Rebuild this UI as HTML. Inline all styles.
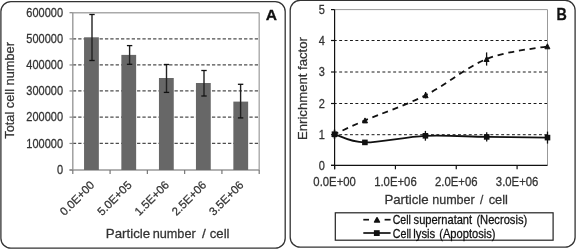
<!DOCTYPE html>
<html><head><meta charset="utf-8"><style>
html,body{margin:0;padding:0;background:#fff;width:576px;height:249px;overflow:hidden}
svg{display:block;will-change:transform}
text{font-family:"Liberation Sans", sans-serif;stroke-width:0.25px}
</style></head><body>
<svg width="576" height="249" viewBox="0 0 576 249">
<rect x="0.9" y="1.6" width="284.3" height="246.6" rx="10" ry="10" fill="none" stroke="#333" stroke-width="1.3"/>
<line x1="72.05" y1="38.90" x2="259.2" y2="38.90" stroke="#4d4d4d" stroke-width="1.2" stroke-dasharray="3.3,2.05" stroke-dashoffset="-0.8"/>
<line x1="72.05" y1="64.95" x2="259.2" y2="64.95" stroke="#4d4d4d" stroke-width="1.2" stroke-dasharray="3.3,2.05" stroke-dashoffset="-0.8"/>
<line x1="72.05" y1="90.95" x2="259.2" y2="90.95" stroke="#4d4d4d" stroke-width="1.2" stroke-dasharray="3.3,2.05" stroke-dashoffset="-0.8"/>
<line x1="72.05" y1="117.15" x2="259.2" y2="117.15" stroke="#4d4d4d" stroke-width="1.2" stroke-dasharray="3.3,2.05" stroke-dashoffset="-0.8"/>
<line x1="72.05" y1="143.45" x2="259.2" y2="143.45" stroke="#4d4d4d" stroke-width="1.2" stroke-dasharray="3.3,2.05" stroke-dashoffset="-0.8"/>
<line x1="72.8" y1="12.7" x2="259.2" y2="12.7" stroke="#aaa" stroke-width="1.4"/>
<line x1="259.2" y1="12.7" x2="259.2" y2="170.0" stroke="#aaa" stroke-width="1.4"/>
<line x1="72.8" y1="12.7" x2="72.8" y2="170.0" stroke="#999" stroke-width="1.4"/>
<line x1="69.5" y1="170.0" x2="259.2" y2="170.0" stroke="#999" stroke-width="1.4"/>
<line x1="69.5" y1="12.70" x2="72.8" y2="12.70" stroke="#888" stroke-width="1.2"/>
<line x1="69.5" y1="38.90" x2="72.8" y2="38.90" stroke="#888" stroke-width="1.2"/>
<line x1="69.5" y1="64.95" x2="72.8" y2="64.95" stroke="#888" stroke-width="1.2"/>
<line x1="69.5" y1="90.95" x2="72.8" y2="90.95" stroke="#888" stroke-width="1.2"/>
<line x1="69.5" y1="117.15" x2="72.8" y2="117.15" stroke="#888" stroke-width="1.2"/>
<line x1="69.5" y1="143.45" x2="72.8" y2="143.45" stroke="#888" stroke-width="1.2"/>
<line x1="69.5" y1="170.00" x2="72.8" y2="170.00" stroke="#888" stroke-width="1.2"/>
<line x1="72.80" y1="170.0" x2="72.80" y2="173.9" stroke="#777" stroke-width="1.2"/>
<line x1="110.08" y1="170.0" x2="110.08" y2="173.9" stroke="#777" stroke-width="1.2"/>
<line x1="147.36" y1="170.0" x2="147.36" y2="173.9" stroke="#777" stroke-width="1.2"/>
<line x1="184.64" y1="170.0" x2="184.64" y2="173.9" stroke="#777" stroke-width="1.2"/>
<line x1="221.92" y1="170.0" x2="221.92" y2="173.9" stroke="#777" stroke-width="1.2"/>
<line x1="259.20" y1="170.0" x2="259.20" y2="173.9" stroke="#777" stroke-width="1.2"/>
<rect x="84.05" y="37.3" width="14.8" height="132.70" fill="#676767"/>
<rect x="121.35" y="54.9" width="14.8" height="115.10" fill="#676767"/>
<rect x="158.95" y="78.0" width="14.8" height="92.00" fill="#676767"/>
<rect x="195.95" y="83.0" width="14.8" height="87.00" fill="#676767"/>
<rect x="233.35" y="101.6" width="14.8" height="68.40" fill="#676767"/>
<line x1="92.00" y1="14.5" x2="92.00" y2="60.5" stroke="#222" stroke-width="1.4"/>
<line x1="89.30" y1="14.5" x2="94.70" y2="14.5" stroke="#111" stroke-width="1.3"/>
<line x1="89.30" y1="60.5" x2="94.70" y2="60.5" stroke="#111" stroke-width="1.3"/>
<line x1="129.60" y1="45.6" x2="129.60" y2="64.3" stroke="#222" stroke-width="1.4"/>
<line x1="126.90" y1="45.6" x2="132.30" y2="45.6" stroke="#111" stroke-width="1.3"/>
<line x1="126.90" y1="64.3" x2="132.30" y2="64.3" stroke="#111" stroke-width="1.3"/>
<line x1="166.50" y1="64.5" x2="166.50" y2="92.4" stroke="#222" stroke-width="1.4"/>
<line x1="163.80" y1="64.5" x2="169.20" y2="64.5" stroke="#111" stroke-width="1.3"/>
<line x1="163.80" y1="92.4" x2="169.20" y2="92.4" stroke="#111" stroke-width="1.3"/>
<line x1="204.00" y1="70.5" x2="204.00" y2="96.0" stroke="#222" stroke-width="1.4"/>
<line x1="201.30" y1="70.5" x2="206.70" y2="70.5" stroke="#111" stroke-width="1.3"/>
<line x1="201.30" y1="96.0" x2="206.70" y2="96.0" stroke="#111" stroke-width="1.3"/>
<line x1="240.60" y1="84.3" x2="240.60" y2="117.9" stroke="#222" stroke-width="1.4"/>
<line x1="237.90" y1="84.3" x2="243.30" y2="84.3" stroke="#111" stroke-width="1.3"/>
<line x1="237.90" y1="117.9" x2="243.30" y2="117.9" stroke="#111" stroke-width="1.3"/>
<text transform="translate(63.0,16.90) scale(1,1.12)" text-anchor="end" font-size="11" fill="#333" stroke="#333">600000</text>
<text transform="translate(63.0,43.10) scale(1,1.12)" text-anchor="end" font-size="11" fill="#333" stroke="#333">500000</text>
<text transform="translate(63.0,69.15) scale(1,1.12)" text-anchor="end" font-size="11" fill="#333" stroke="#333">400000</text>
<text transform="translate(63.0,95.15) scale(1,1.12)" text-anchor="end" font-size="11" fill="#333" stroke="#333">300000</text>
<text transform="translate(63.0,121.35) scale(1,1.12)" text-anchor="end" font-size="11" fill="#333" stroke="#333">200000</text>
<text transform="translate(63.0,147.65) scale(1,1.12)" text-anchor="end" font-size="11" fill="#333" stroke="#333">100000</text>
<text transform="translate(63.0,174.20) scale(1,1.12)" text-anchor="end" font-size="11" fill="#333" stroke="#333">0</text>
<text transform="translate(95.14,185.7) rotate(-45)" text-anchor="end" font-size="11.5" fill="#333" stroke="#333">0.0E+00</text>
<text transform="translate(132.42,185.7) rotate(-45)" text-anchor="end" font-size="11.5" fill="#333" stroke="#333">5.0E+05</text>
<text transform="translate(169.70,185.7) rotate(-45)" text-anchor="end" font-size="11.5" fill="#333" stroke="#333">1.5E+06</text>
<text transform="translate(206.98,185.7) rotate(-45)" text-anchor="end" font-size="11.5" fill="#333" stroke="#333">2.5E+06</text>
<text transform="translate(244.26,185.7) rotate(-45)" text-anchor="end" font-size="11.5" fill="#333" stroke="#333">3.5E+06</text>
<text transform="translate(13.9,90.4) rotate(-90) scale(1.017,1)" text-anchor="middle" font-size="12.6" fill="#333" stroke="#333">Total cell number</text>
<text transform="translate(105.80,237.7) scale(1.0566,1.06)" font-size="12.6" fill="#333" stroke="#333">Particle</text>
<text transform="translate(152.64,237.7) scale(1.0102,1.06)" font-size="12.6" fill="#333" stroke="#333">number</text>
<text transform="translate(202.00,237.7) scale(1.0868,1.06)" font-size="12.6" fill="#333" stroke="#333">/</text>
<text transform="translate(209.74,237.7) scale(1.0449,1.06)" font-size="12.6" fill="#333" stroke="#333">cell</text>
<text transform="translate(271.4,19.5) scale(1.08,1.04)" text-anchor="middle" font-size="14.5" font-weight="bold" fill="#111" stroke="#111">A</text>
<rect x="290.2" y="0.3" width="284.9" height="246.9" rx="10" ry="10" fill="none" stroke="#333" stroke-width="1.3"/>
<line x1="334.6" y1="134.70" x2="547.5" y2="134.70" stroke="#1a1a1a" stroke-width="1" stroke-dasharray="2.9,2.5" stroke-dashoffset="0.8"/>
<line x1="334.6" y1="103.50" x2="547.5" y2="103.50" stroke="#1a1a1a" stroke-width="1" stroke-dasharray="2.9,2.5" stroke-dashoffset="0.8"/>
<line x1="334.6" y1="72.00" x2="547.5" y2="72.00" stroke="#1a1a1a" stroke-width="1" stroke-dasharray="2.9,2.5" stroke-dashoffset="0.8"/>
<line x1="334.6" y1="40.50" x2="547.5" y2="40.50" stroke="#1a1a1a" stroke-width="1" stroke-dasharray="2.9,2.5" stroke-dashoffset="0.8"/>
<line x1="334.6" y1="9.6" x2="547.5" y2="9.6" stroke="#999" stroke-width="1"/>
<line x1="547.5" y1="9.6" x2="547.5" y2="165.4" stroke="#999" stroke-width="1"/>
<line x1="334.6" y1="9.6" x2="334.6" y2="169.3" stroke="#111" stroke-width="1.2"/>
<line x1="331.0" y1="165.4" x2="547.5" y2="165.4" stroke="#111" stroke-width="1.2"/>
<line x1="331.0" y1="165.40" x2="334.6" y2="165.40" stroke="#111" stroke-width="1.2"/>
<line x1="331.0" y1="134.70" x2="334.6" y2="134.70" stroke="#111" stroke-width="1.2"/>
<line x1="331.0" y1="103.50" x2="334.6" y2="103.50" stroke="#111" stroke-width="1.2"/>
<line x1="331.0" y1="72.00" x2="334.6" y2="72.00" stroke="#111" stroke-width="1.2"/>
<line x1="331.0" y1="40.50" x2="334.6" y2="40.50" stroke="#111" stroke-width="1.2"/>
<line x1="331.0" y1="9.60" x2="334.6" y2="9.60" stroke="#111" stroke-width="1.2"/>
<line x1="334.60" y1="165.4" x2="334.60" y2="169.3" stroke="#111" stroke-width="1.2"/>
<line x1="395.43" y1="165.4" x2="395.43" y2="169.3" stroke="#111" stroke-width="1.2"/>
<line x1="456.26" y1="165.4" x2="456.26" y2="169.3" stroke="#111" stroke-width="1.2"/>
<line x1="517.09" y1="165.4" x2="517.09" y2="169.3" stroke="#111" stroke-width="1.2"/>
<text transform="translate(324.8,169.60) scale(1,1.12)" text-anchor="end" font-size="11" fill="#333" stroke="#333">0</text>
<text transform="translate(324.8,138.90) scale(1,1.12)" text-anchor="end" font-size="11" fill="#333" stroke="#333">1</text>
<text transform="translate(324.8,107.70) scale(1,1.12)" text-anchor="end" font-size="11" fill="#333" stroke="#333">2</text>
<text transform="translate(324.8,76.20) scale(1,1.12)" text-anchor="end" font-size="11" fill="#333" stroke="#333">3</text>
<text transform="translate(324.8,44.70) scale(1,1.12)" text-anchor="end" font-size="11" fill="#333" stroke="#333">4</text>
<text transform="translate(324.8,13.80) scale(1,1.12)" text-anchor="end" font-size="11" fill="#333" stroke="#333">5</text>
<text transform="translate(334.60,185.6) scale(1.03,1.12)" text-anchor="middle" font-size="11" fill="#333" stroke="#333">0.0E+00</text>
<text transform="translate(395.43,185.6) scale(1.03,1.12)" text-anchor="middle" font-size="11" fill="#333" stroke="#333">1.0E+06</text>
<text transform="translate(456.26,185.6) scale(1.03,1.12)" text-anchor="middle" font-size="11" fill="#333" stroke="#333">2.0E+06</text>
<text transform="translate(517.09,185.6) scale(1.03,1.12)" text-anchor="middle" font-size="11" fill="#333" stroke="#333">3.0E+06</text>
<text transform="translate(307.1,88.55) rotate(-90) scale(1.044,1)" text-anchor="middle" font-size="12.6" fill="#333" stroke="#333">Enrichment factor</text>
<text transform="translate(384.40,203.5) scale(1.0541,1.06)" font-size="12.6" fill="#333" stroke="#333">Particle</text>
<text transform="translate(432.15,203.5) scale(0.9982,1.06)" font-size="12.6" fill="#333" stroke="#333">number</text>
<text transform="translate(480.00,203.5) scale(0.9438,1.06)" font-size="12.6" fill="#333" stroke="#333">/</text>
<text transform="translate(488.65,203.5) scale(1.0220,1.06)" font-size="12.6" fill="#333" stroke="#333">cell</text>
<text transform="translate(561.7,20.0) scale(1.02,1.15)" text-anchor="middle" font-size="14" font-weight="bold" fill="#111" stroke="#111">B</text>
<path d="M334.50,134.20 C339.58,131.90 349.82,126.90 365.00,120.40 C380.18,113.90 405.33,105.43 425.60,95.20 C445.87,84.97 466.30,67.15 486.60,59.00 C506.90,50.85 537.27,48.42 547.40,46.30" fill="none" stroke="#111" stroke-width="1.8" stroke-dasharray="6,4.8" stroke-dashoffset="1.7"/>
<path d="M334.50,134.20 C339.57,135.57 349.75,142.13 364.90,142.40 C380.05,142.67 405.10,136.72 425.40,135.80 C445.70,134.88 466.35,136.60 486.70,136.90 C507.05,137.20 537.37,137.48 547.50,137.60" fill="none" stroke="#111" stroke-width="1.8"/>
<line x1="334.50" y1="129.70" x2="334.50" y2="138.70" stroke="#111" stroke-width="1.3"/>
<line x1="425.60" y1="92.00" x2="425.60" y2="98.40" stroke="#111" stroke-width="1.3"/>
<line x1="486.60" y1="52.40" x2="486.60" y2="65.60" stroke="#111" stroke-width="1.3"/>
<line x1="334.50" y1="129.70" x2="334.50" y2="138.70" stroke="#111" stroke-width="1.3"/>
<line x1="425.40" y1="130.90" x2="425.40" y2="140.70" stroke="#111" stroke-width="1.3"/>
<line x1="486.70" y1="132.20" x2="486.70" y2="141.60" stroke="#111" stroke-width="1.3"/>
<line x1="547.50" y1="131.60" x2="547.50" y2="143.60" stroke="#111" stroke-width="1.3"/>
<path d="M334.50,131.70 L337.00,136.70 L332.00,136.70 Z" fill="#111" stroke="#111" stroke-width="1.0" stroke-linejoin="round"/>
<path d="M365.00,117.90 L367.50,122.90 L362.50,122.90 Z" fill="#111" stroke="#111" stroke-width="1.0" stroke-linejoin="round"/>
<path d="M425.60,92.70 L428.10,97.70 L423.10,97.70 Z" fill="#111" stroke="#111" stroke-width="1.0" stroke-linejoin="round"/>
<path d="M486.60,56.50 L489.10,61.50 L484.10,61.50 Z" fill="#111" stroke="#111" stroke-width="1.0" stroke-linejoin="round"/>
<path d="M547.40,43.80 L549.90,48.80 L544.90,48.80 Z" fill="#111" stroke="#111" stroke-width="1.0" stroke-linejoin="round"/>
<rect x="331.70" y="131.40" width="5.6" height="5.6" fill="#111"/>
<rect x="362.10" y="139.60" width="5.6" height="5.6" fill="#111"/>
<rect x="422.60" y="133.00" width="5.6" height="5.6" fill="#111"/>
<rect x="483.90" y="134.10" width="5.6" height="5.6" fill="#111"/>
<rect x="544.70" y="134.80" width="5.6" height="5.6" fill="#111"/>
<rect x="335.3" y="212.8" width="217.8" height="27.4" fill="#fff" stroke="#222" stroke-width="1.2"/>
<line x1="363.3" y1="219.7" x2="369.0" y2="219.7" stroke="#111" stroke-width="1.7"/>
<line x1="384.6" y1="219.7" x2="390.6" y2="219.7" stroke="#111" stroke-width="1.7"/>
<path d="M377.00,217.70 L379.50,222.10 L374.50,222.10 Z" fill="#111" stroke="#111" stroke-width="1.4" stroke-linejoin="round"/>
<line x1="363.3" y1="233.0" x2="390.6" y2="233.0" stroke="#111" stroke-width="1.7"/>
<rect x="373.90" y="230.20" width="5.8" height="5.8" fill="#111"/>
<text transform="translate(392.77,224.0) scale(0.9572,1.1)" font-size="11" fill="#111" stroke="#111">Cell</text>
<text transform="translate(413.59,224.0) scale(1.0083,1.1)" font-size="11" fill="#111" stroke="#111">supernatant</text>
<text transform="translate(476.40,224.0) scale(1.0158,1.1)" font-size="11" fill="#111" stroke="#111">(Necrosis)</text>
<text transform="translate(392.77,237.7) scale(0.9686,1.1)" font-size="11" fill="#111" stroke="#111">Cell</text>
<text transform="translate(413.23,237.7) scale(1.0312,1.1)" font-size="11" fill="#111" stroke="#111">lysis</text>
<text transform="translate(439.20,237.7) scale(1.0137,1.1)" font-size="11" fill="#111" stroke="#111">(Apoptosis)</text>
</svg>
</body></html>
